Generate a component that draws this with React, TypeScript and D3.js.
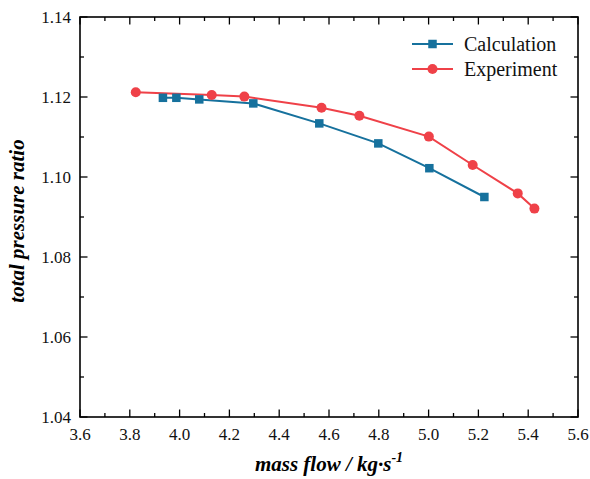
import React from "react";
import * as d3 from "d3";

// Total pressure ratio vs. mass flow
const calcFlow = [3.933, 3.987, 4.079, 4.296, 4.561, 4.798, 5.003, 5.224];
const calcRatio = [1.1198, 1.1198, 1.1194, 1.1184, 1.1134, 1.1084, 1.1022, 1.0950];

const expFlow = [3.824, 4.129, 4.26, 4.57, 4.722, 5.001, 5.177, 5.358, 5.425];
const expRatio = [1.1212, 1.1205, 1.1201, 1.1173, 1.1153, 1.1101, 1.103, 1.0959, 1.0921];

const xMajorTicks = [3.6, 3.8, 4.0, 4.2, 4.4, 4.6, 4.8, 5.0, 5.2, 5.4, 5.6];
const xMinorTicks = [3.7, 3.9, 4.1, 4.3, 4.5, 4.7, 4.9, 5.1, 5.3, 5.5];
const yMajorTicks = [1.04, 1.06, 1.08, 1.1, 1.12, 1.14];
const yMinorTicks = [1.05, 1.07, 1.09, 1.11, 1.13];

const seriesNames = ["Calculation", "Experiment"];
const BLUE = "#16719d";
const RED = "#ef4148";

const W = 590;
const H = 479;
const left = 80;
const right = 578;
const top = 17;
const bottom = 417;

const FONT = "Liberation Serif, DejaVu Serif, serif";

export default function App() {
  const x = d3.scaleLinear().domain([3.6, 5.6]).range([left, right]);
  const y = d3.scaleLinear().domain([1.04, 1.14]).range([bottom, top]);

  const line = d3
    .line<[number, number]>()
    .x((d) => x(d[0]))
    .y((d) => y(d[1]));

  const calcPts: [number, number][] = calcFlow.map((f, i) => [f, calcRatio[i]]);
  const expPts: [number, number][] = expFlow.map((f, i) => [f, expRatio[i]]);

  const majorLen = 7.5;
  const minorLen = 4;
  const sq = 8.5;
  const r = 5;

  return (
    <svg
      width={W}
      height={H}
      style={{ position: "absolute", left: 0, top: 0, background: "#fff", fontFamily: FONT }}
    >
      {/* series lines */}
      <path d={line(calcPts) ?? ""} fill="none" stroke={BLUE} strokeWidth={2} />
      <path d={line(expPts) ?? ""} fill="none" stroke={RED} strokeWidth={2} />

      {/* markers */}
      {calcPts.map((d, i) => (
        <rect
          key={"c" + i}
          x={x(d[0]) - sq / 2}
          y={y(d[1]) - sq / 2}
          width={sq}
          height={sq}
          fill={BLUE}
        />
      ))}
      {expPts.map((d, i) => (
        <circle key={"e" + i} cx={x(d[0])} cy={y(d[1])} r={r} fill={RED} />
      ))}

      {/* ticks on all four sides, pointing inward */}
      <g stroke="#000" strokeWidth={1.3}>
        {xMajorTicks.map((t) => (
          <g key={"xm" + t}>
            <line x1={x(t)} x2={x(t)} y1={bottom} y2={bottom - majorLen} />
            <line x1={x(t)} x2={x(t)} y1={top} y2={top + majorLen} />
          </g>
        ))}
        {xMinorTicks.map((t) => (
          <g key={"xn" + t}>
            <line x1={x(t)} x2={x(t)} y1={bottom} y2={bottom - minorLen} />
            <line x1={x(t)} x2={x(t)} y1={top} y2={top + minorLen} />
          </g>
        ))}
        {yMajorTicks.map((t) => (
          <g key={"ym" + t}>
            <line x1={left} x2={left + majorLen} y1={y(t)} y2={y(t)} />
            <line x1={right} x2={right - majorLen} y1={y(t)} y2={y(t)} />
          </g>
        ))}
        {yMinorTicks.map((t) => (
          <g key={"yn" + t}>
            <line x1={left} x2={left + minorLen} y1={y(t)} y2={y(t)} />
            <line x1={right} x2={right - minorLen} y1={y(t)} y2={y(t)} />
          </g>
        ))}
      </g>

      {/* frame */}
      <rect
        x={left}
        y={top}
        width={right - left}
        height={bottom - top}
        fill="none"
        stroke="#000"
        strokeWidth={1.6}
      />

      {/* tick labels */}
      <g fontSize={17} fill="#111">
        {xMajorTicks.map((t) => (
          <text key={"xl" + t} x={x(t)} y={bottom + 23} textAnchor="middle">
            {d3.format(".1f")(t)}
          </text>
        ))}
        {yMajorTicks.map((t) => (
          <text key={"yl" + t} x={left - 9} y={y(t) + 6} textAnchor="end">
            {d3.format(".2f")(t)}
          </text>
        ))}
      </g>

      {/* axis titles */}
      <text
        x={(left + right) / 2}
        y={471}
        textAnchor="middle"
        fontSize={21}
        fontWeight="bold"
        fontStyle="italic"
        fill="#000"
      >
        mass flow / kg·s
        <tspan fontSize={14} dy={-9}>-1</tspan>
      </text>
      <text
        transform={`translate(24, ${(top + bottom) / 2 + 4}) rotate(-90)`}
        textAnchor="middle"
        fontSize={21}
        fontWeight="bold"
        fontStyle="italic"
        fill="#000"
      >
        total pressure ratio
      </text>

      {/* legend */}
      <g>
        <line x1={412} x2={453} y1={44} y2={44} stroke={BLUE} strokeWidth={2} />
        <rect x={432.5 - sq / 2} y={44 - sq / 2} width={sq} height={sq} fill={BLUE} />
        <text x={464} y={51} fontSize={20} fill="#111">
          {seriesNames[0]}
        </text>
        <line x1={412} x2={453} y1={69} y2={69} stroke={RED} strokeWidth={2} />
        <circle cx={432.5} cy={69} r={r} fill={RED} />
        <text x={464} y={76} fontSize={20} fill="#111">
          {seriesNames[1]}
        </text>
      </g>
    </svg>
  );
}
